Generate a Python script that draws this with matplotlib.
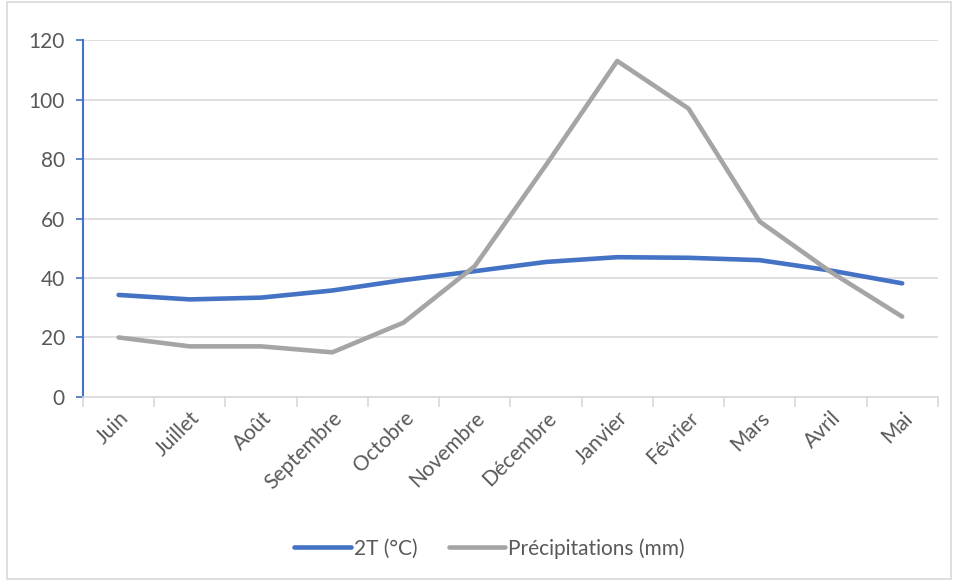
import matplotlib.pyplot as plt
import numpy as np
from matplotlib.patches import Rectangle

plt.rcParams['font.family'] = ['Lato', 'DejaVu Sans']

months = ['Juin', 'Juillet', 'Août', 'Septembre', 'Octobre', 'Novembre',
          'Décembre', 'Janvier', 'Février', 'Mars', 'Avril', 'Mai']
temp = [34.3, 32.8, 33.4, 35.8, 39.3, 42.3, 45.4, 47.0, 46.8, 46.0, 42.5, 38.2]
precip = [20, 17, 17, 15, 25, 44, 78, 113, 97, 59, 42, 27]

blue = '#4472C4'
grey = '#A5A5A5'
txt = '#595959'
fs = 15

fig = plt.figure(figsize=(9.54, 5.82), dpi=100)
ax = fig.add_axes([0.087, 0.318, 0.896, 0.613])

x = np.arange(len(months))
ax.plot(x, temp, color=blue, lw=3.3, solid_capstyle='round', label='2T (°C)')
ax.plot(x, precip, color=grey, lw=3.3, solid_capstyle='round', label='Précipitations (mm)')

ax.set_xlim(-0.5, len(months) - 0.5)
ax.set_ylim(0, 120)
ax.set_yticks(range(0, 121, 20))
ax.grid(axis='y', color='#D9D9D9', lw=1.2)
ax.set_axisbelow(True)

ax.set_xticks(x)
ax.set_xticklabels(months, rotation=45, ha='right', rotation_mode='anchor',
                   fontsize=fs, color=txt)
ax.tick_params(axis='x', which='major', length=0, pad=8)
ax.set_xticks(np.arange(-0.5, len(months) + 0.5, 1), minor=True)
ax.tick_params(axis='x', which='minor', length=7, color='#D9D9D9', width=1.2)
ax.tick_params(axis='y', length=5, color=blue, width=1.2, labelsize=fs,
               labelcolor=txt, pad=8)

for s in ['top', 'right']:
    ax.spines[s].set_visible(False)
ax.spines['left'].set_color(blue)
ax.spines['left'].set_linewidth(1.5)
ax.spines['bottom'].set_color('#D9D9D9')
ax.spines['bottom'].set_linewidth(1.2)

fig.legend(loc='center', bbox_to_anchor=(0.513, 0.058), ncol=2, frameon=False,
           fontsize=fs, labelcolor=txt, handlelength=2.7, handletextpad=0.15,
           columnspacing=1.5)

fig.patches.append(Rectangle((0.007, 0.006), 0.99, 0.99, transform=fig.transFigure,
                             fill=False, edgecolor='#D9D9D9', lw=1.2))

fig.savefig('out.png', dpi=100)
